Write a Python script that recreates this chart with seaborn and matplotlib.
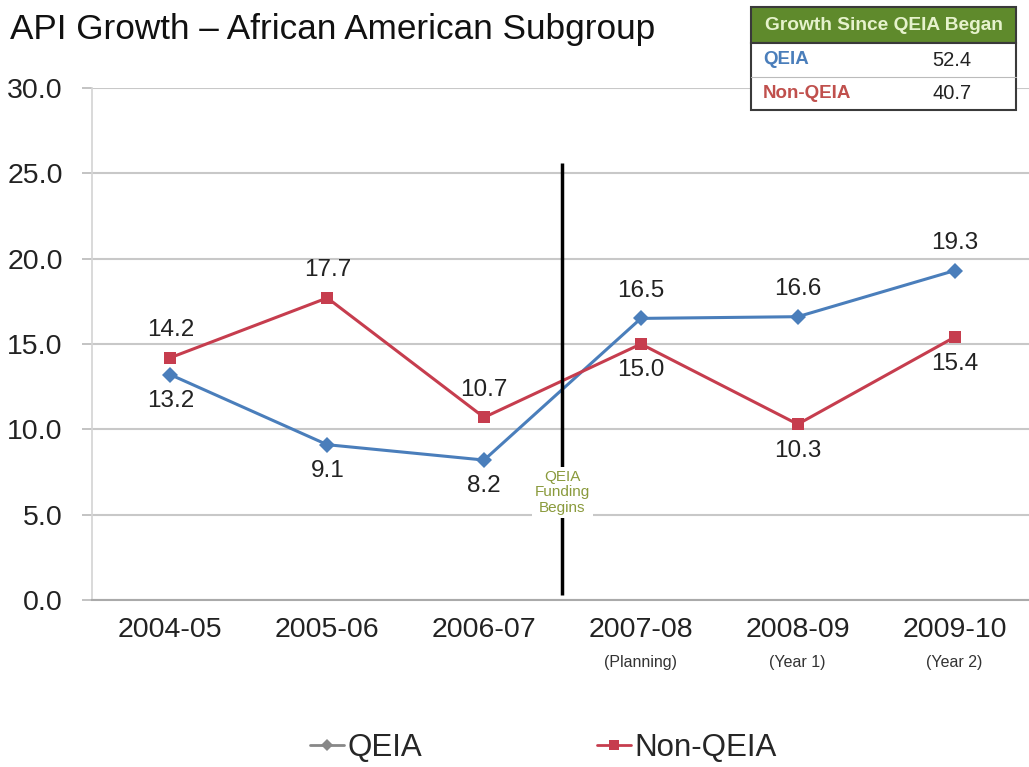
import matplotlib
matplotlib.use("Agg")
import matplotlib.pyplot as plt
from matplotlib.lines import Line2D
from matplotlib.patches import Rectangle
import seaborn as sns
import pandas as pd

years = ["2004-05", "2005-06", "2006-07", "2007-08", "2008-09", "2009-10"]
sublabels = ["", "", "", "(Planning)", "(Year 1)", "(Year 2)"]
qeia = [13.2, 9.1, 8.2, 16.5, 16.6, 19.3]
non_qeia = [14.2, 17.7, 10.7, 15.0, 10.3, 15.4]
qeia_label_pos = ["below", "below", "below", "above", "above", "above"]
non_label_pos = ["above", "above", "above", "below", "below", "below"]
yticks = [0, 5, 10, 15, 20, 25, 30]
summary_rows = [("QEIA", "52.4"), ("Non-QEIA", "40.7")]
summary_title = "Growth Since QEIA Began"

sns.set_theme(style="white")
plt.rcParams["font.family"] = ["Liberation Sans", "DejaVu Sans"]

BLUE = "#4A7EBB"
RED = "#C63D4E"

df = pd.DataFrame({
    "x": list(range(len(years))) * 2,
    "value": qeia + non_qeia,
    "series": ["QEIA"] * len(years) + ["Non-QEIA"] * len(years),
})

fig = plt.figure(figsize=(10.29, 7.67), dpi=100)
ax = fig.add_axes([92 / 1029, 1 - 600 / 767, 941 / 1029, (600 - 88) / 767])

sns.lineplot(data=df, x="x", y="value", hue="series", style="series",
             palette={"QEIA": BLUE, "Non-QEIA": RED},
             markers={"QEIA": "D", "Non-QEIA": "s"}, dashes=False,
             markersize=8, linewidth=2.2, markeredgewidth=0, ax=ax, legend=False)

ax.set_xlim(-0.5, 5.5)
ax.set_ylim(0, 30)
ax.set_yticks(yticks)
ax.set_yticklabels([f"{v:.1f}" for v in yticks], fontsize=20.5, color="#222222")
ax.set_xticks(range(len(years)))
ax.set_xticklabels(years, fontsize=20.5, color="#222222")
ax.set_xlabel("")
ax.set_ylabel("")
ax.yaxis.grid(True, color="#C8C8C8", linewidth=1.5)
ax.set_axisbelow(True)
ax.tick_params(axis="y", length=7, color="#BBBBBB", pad=14, left=True)
ax.tick_params(axis="x", length=0, pad=12)
for s in ["top", "right"]:
    ax.spines[s].set_visible(False)
ax.spines["left"].set_color("#D5D5D5")
ax.spines["bottom"].set_color("#AAAAAA")
ax.spines["bottom"].set_linewidth(1.5)

for i, sl in enumerate(sublabels):
    if sl:
        ax.annotate(sl, xy=(i, 0), xycoords=("data", "axes fraction"),
                    xytext=(0, -45), textcoords="offset points",
                    ha="center", va="center", fontsize=11.5, color="#333333")

for series, pos in ((qeia, qeia_label_pos), (non_qeia, non_label_pos)):
    for i, v in enumerate(series):
        dy = 20 if pos[i] == "above" else -19
        ax.annotate(f"{v:.1f}", xy=(i, v), xytext=(0, dy), textcoords="offset points",
                    ha="center", va="center", fontsize=17.5, color="#222222")

ax.vlines(2.5, 0.3, 25.6, color="black", linewidth=2.5, zorder=5)
ax.text(2.5, 6.3, "QEIA\nFunding\nBegins", ha="center", va="center", fontsize=11,
        color="#8A9A3C", linespacing=1.15, zorder=6,
        bbox=dict(facecolor="white", edgecolor="none", pad=2))

fig.text(10 / 1029, 1 - 30 / 767, "API Growth \u2013 African American Subgroup",
         fontsize=25.3, color="#111111", ha="left", va="center")

# summary table
x0, x1 = 751 / 1029, 1016 / 1029
ys = [7, 43, 77, 110]
yf = [1 - y / 767 for y in ys]
fig.patches.append(Rectangle((x0, yf[1]), x1 - x0, yf[0] - yf[1], transform=fig.transFigure,
                             facecolor="#5F8A2C", edgecolor="#3A3A3A", linewidth=1.5, zorder=3))
fig.patches.append(Rectangle((x0, yf[3]), x1 - x0, yf[1] - yf[3], transform=fig.transFigure,
                             facecolor="white", edgecolor="#3A3A3A", linewidth=1.5, zorder=3))
fig.add_artist(Line2D([x0, x1], [yf[2], yf[2]], transform=fig.transFigure,
                      color="#BBBBBB", linewidth=0.8, zorder=4))
fig.text((x0 + x1) / 2, (yf[0] + yf[1]) / 2, summary_title, ha="center", va="center",
         fontsize=13.8, fontweight="bold", color="#E6F2CC", zorder=5)
row_colors = [BLUE, "#C0504D"]
for k, (lab, val) in enumerate(summary_rows):
    yc = (yf[k + 1] + yf[k + 2]) / 2
    fig.text(763 / 1029, yc, lab, ha="left", va="center", fontsize=13.5,
             fontweight="bold", color=row_colors[k], zorder=5)
    fig.text(952 / 1029, yc, val, ha="center", va="center", fontsize=14.5,
             color="#222222", zorder=5)

handles = [Line2D([], [], color="#888888", marker="D", markersize=6, linewidth=2,
                  markeredgewidth=0),
           Line2D([], [], color=RED, marker="s", markersize=7, linewidth=2,
                  markeredgewidth=0)]
fig.legend(handles, ["QEIA", "Non-QEIA"], loc="center", bbox_to_anchor=(0.528, 0.025),
           ncol=2, frameon=False, fontsize=22.5, handlelength=1.1, handletextpad=0.1,
           columnspacing=5.6)

fig.savefig("out.png", dpi=100)
